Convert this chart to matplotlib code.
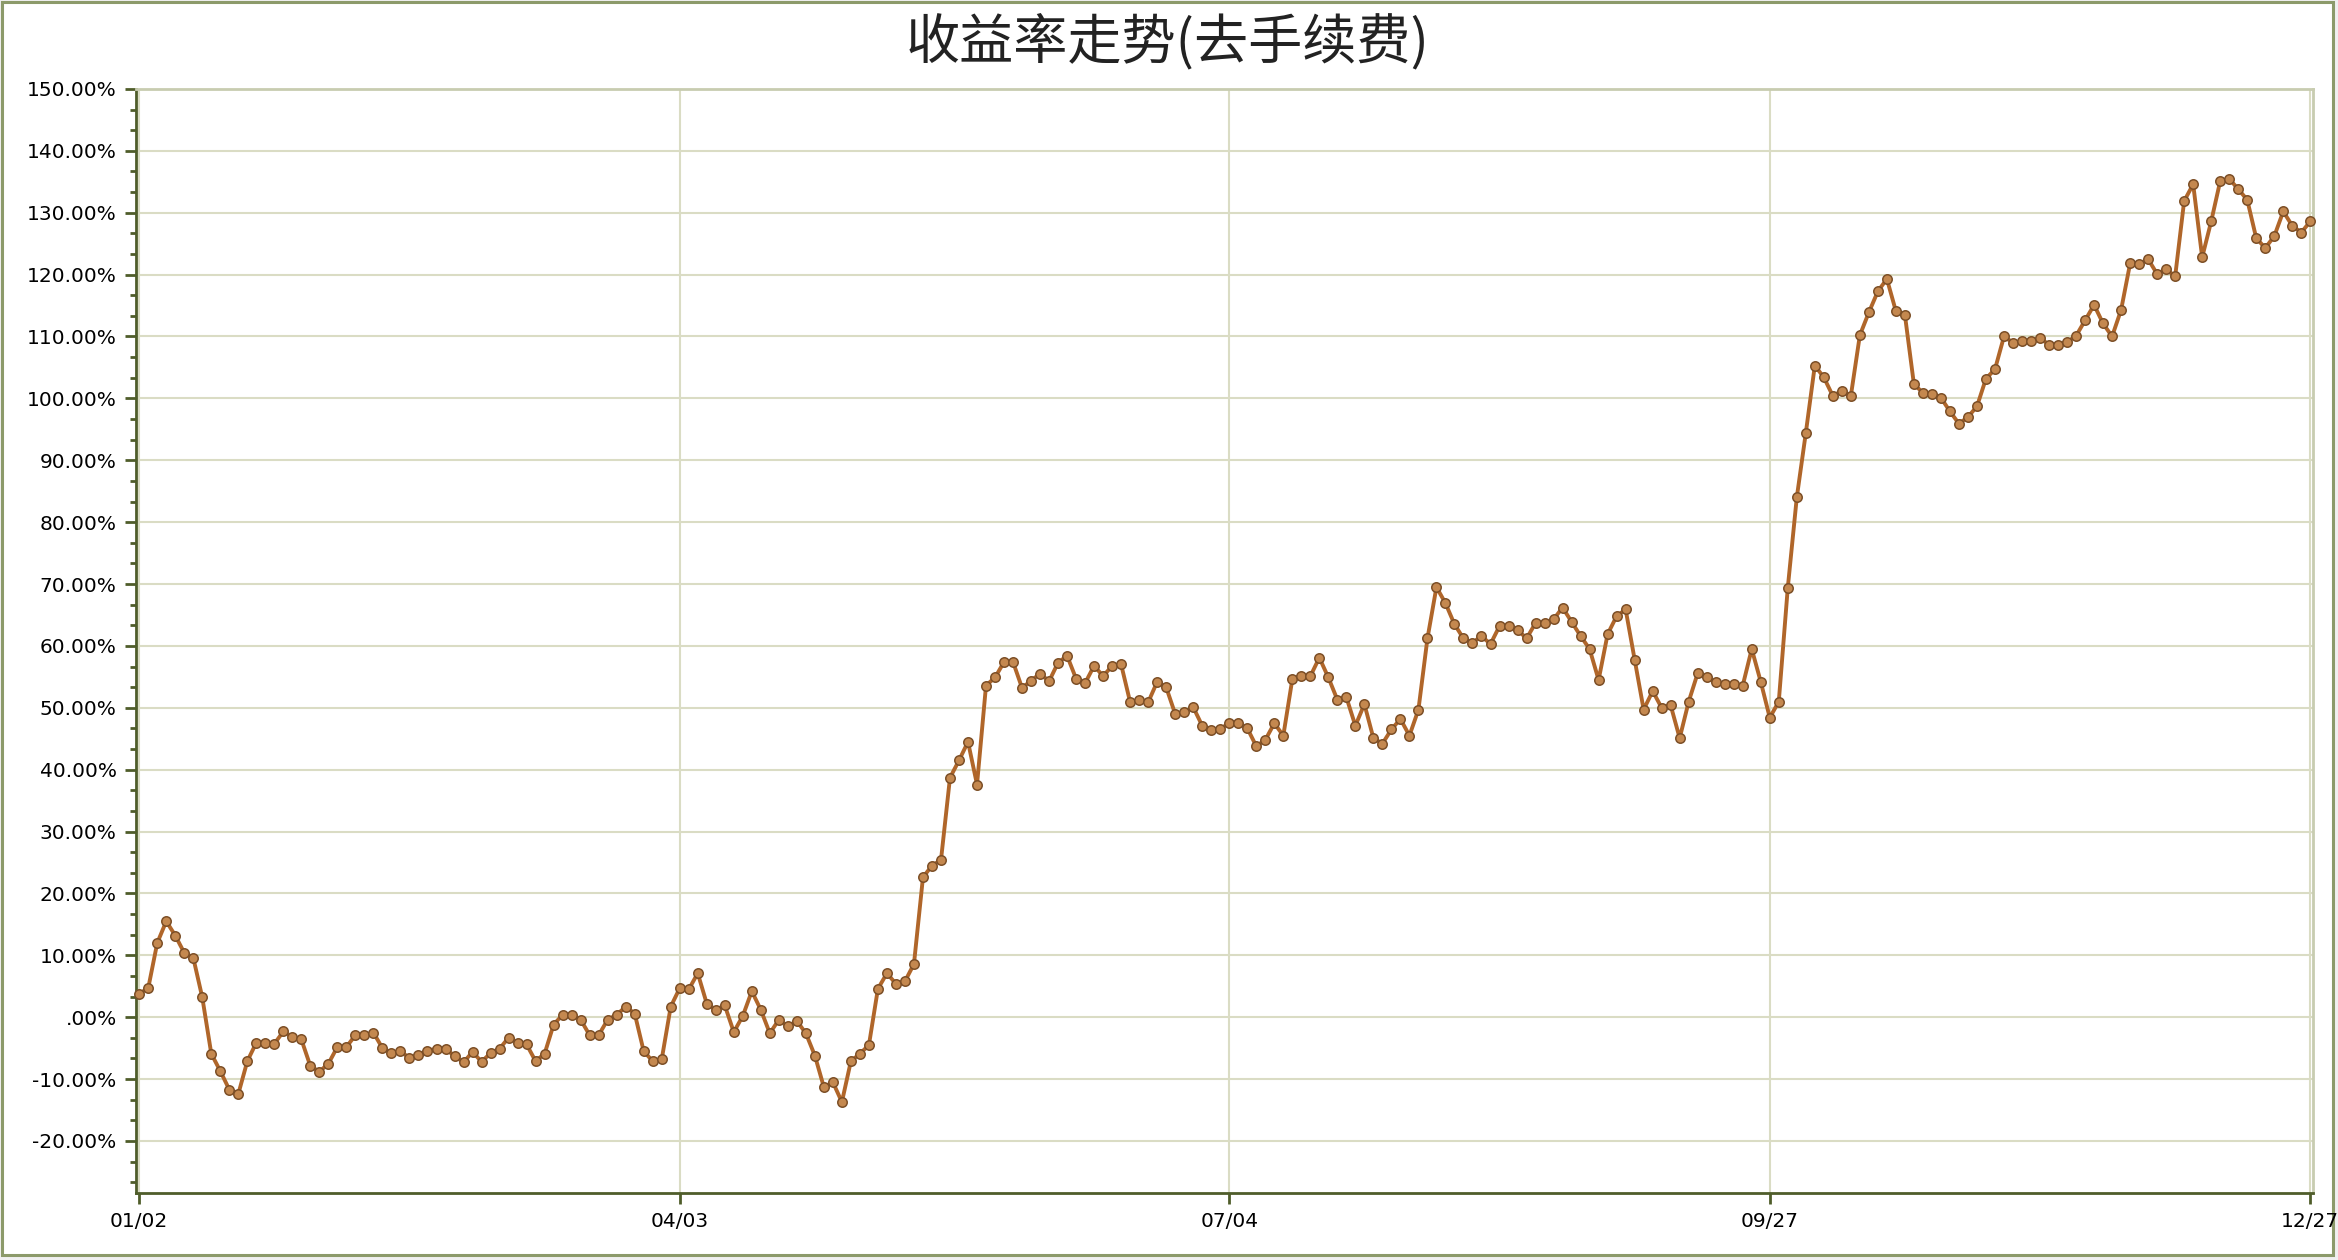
import matplotlib
matplotlib.use("Agg")
import matplotlib.pyplot as plt
from matplotlib.patches import Rectangle
from matplotlib.ticker import FixedLocator, FuncFormatter, MultipleLocator

# daily return curve (%), one value per trading day
returns = [
    3.8, 4.7, 12.0, 15.5, 13.2, 10.4, 9.6, 3.2, -5.9, -8.7,
    -11.7, -12.4, -7.1, -4.1, -4.1, -4.3, -2.3, -3.2, -3.6, -7.9,
    -8.8, -7.5, -4.8, -4.8, -2.9, -2.9, -2.5, -5.0, -5.8, -5.5,
    -6.6, -6.1, -5.4, -5.1, -5.2, -6.2, -7.3, -5.6, -7.2, -5.8,
    -5.1, -3.3, -4.1, -4.4, -7.1, -5.9,
    -1.2, 0.4, 0.4, -0.4, -2.9, -2.9, -0.4, 0.4, 1.7, 0.6,
    -5.5, -7.1, -6.8, 1.7, 4.7, 4.5, 7.1, 2.2, 1.2, 1.9,
    -2.4, 0.2, 4.2, 1.2, -2.6, -0.4, -1.5, -0.6, -2.6, -6.2,
    -11.3, -10.5, -13.7, -7.1, -5.9, -4.5, 4.6, 7.1, 5.4, 5.8, 8.6,
    22.6, 24.5, 25.4, 38.7, 41.5, 44.5, 37.6, 53.6, 54.9, 57.4,
    57.4, 53.2, 54.4, 55.5, 54.3, 57.3, 58.4, 54.7, 54.0, 56.8,
    55.1, 56.8, 57.0, 50.9, 51.3, 50.9, 54.2, 53.3, 49.0, 49.3,
    50.1, 47.1, 46.4, 46.5, 47.6, 47.6, 46.7, 43.8, 44.8,
    47.5, 45.5, 54.6, 55.2, 55.1, 58.1, 54.9, 51.3, 51.7, 47.1,
    50.6, 45.1, 44.2, 46.5, 48.2, 45.5, 49.7, 61.2, 69.5, 66.9,
    63.5, 61.2, 60.5, 61.6, 60.3, 63.2, 63.2, 62.6, 61.2, 63.7,
    63.7, 64.3, 66.2, 63.9, 61.6, 59.5, 54.5, 61.9, 64.8, 65.9,
    57.8, 49.7, 52.7,
    50.0, 50.4, 45.1, 51.0, 55.6, 54.9, 54.1, 53.8, 53.9, 53.6,
    59.5, 54.2, 48.4, 51.0, 69.4, 84.0, 94.4, 105.3, 103.4, 100.4,
    101.2, 100.4, 110.2, 113.9, 117.3, 119.3, 114.1, 113.5, 102.3, 100.9,
    100.7, 100.1, 97.9, 95.9, 97.0, 98.7, 103.2, 104.7, 110.0, 109.0,
    109.2, 109.2, 109.7,
    108.7, 108.7, 109.1, 110.1, 112.6, 115.1, 112.1, 110.0, 114.3, 121.8,
    121.7, 122.5, 120.1, 120.9, 119.7, 131.9, 134.6, 122.8, 128.6, 135.1,
    135.5, 133.8, 132.1, 125.9, 124.3, 126.2, 130.2, 127.9, 126.8, 128.6,
]

date_ticks = [0, 60, 121, 181, 241]
date_labels = ["01/02", "04/03", "07/04", "09/27", "12/27"]

title = "收益率走势(去手续费)"

GRID = "#dadcc4"
AXIS = "#4f5d2a"
FRAME = "#8c9a6a"


def pct_fmt(v, pos):
    s = "%.2f%%" % v
    if abs(v) < 1e-9:
        s = ".00%"
    return s


def main():
    fig = plt.figure(figsize=(23.38, 12.6), dpi=100)
    fig.patch.set_facecolor("#f0f0f0")
    # white chart area with the olive outer frame, kept under the axes
    fig.patches.append(Rectangle((0.0008, 0.004), 0.9970, 0.9948,
                                 transform=fig.transFigure, facecolor="white",
                                 edgecolor=FRAME, linewidth=2.2, zorder=-1))

    ax = fig.add_axes([0.0582, 0.0532, 0.9311, 0.8762])
    x = list(range(len(returns)))
    ax.plot(x, returns, color="#b0662a", linewidth=2.8, marker="o",
            markersize=6.8, markerfacecolor="#c4884f", markeredgecolor="#7c4f27",
            markeredgewidth=1.1, zorder=3, clip_on=False)

    ax.set_xlim(-0.35, 241.3)
    ax.set_ylim(-28.4, 150)

    ax.xaxis.set_major_locator(FixedLocator(date_ticks))
    ax.set_xticklabels(date_labels)
    ax.yaxis.set_major_locator(MultipleLocator(10))
    ax.yaxis.set_minor_locator(MultipleLocator(10 / 3))
    ax.yaxis.set_major_formatter(FuncFormatter(pct_fmt))

    ax.grid(True, which="major", color=GRID, linewidth=1.5, zorder=0)
    ax.set_axisbelow(True)

    for side in ["left", "bottom"]:
        ax.spines[side].set_color(AXIS)
        ax.spines[side].set_linewidth(2.0)
    for side in ["top", "right"]:
        ax.spines[side].set_color("#c8ccb0")
        ax.spines[side].set_linewidth(2.0)

    ax.tick_params(axis="y", which="major", length=8, width=2, color=AXIS,
                   labelsize=14.5, pad=6)
    ax.tick_params(axis="y", which="minor", length=4, width=2, color=AXIS)
    ax.tick_params(axis="x", which="major", length=8, width=2, color=AXIS,
                   labelsize=14.5, pad=6)

    fig.text(0.4995, 0.9667, title, ha="center", va="center", fontsize=39,
             family=["Noto Sans CJK SC", "DejaVu Sans"], color="#222222")

    fig.savefig("out.png", dpi=100, facecolor=fig.get_facecolor())


if __name__ == "__main__":
    main()
